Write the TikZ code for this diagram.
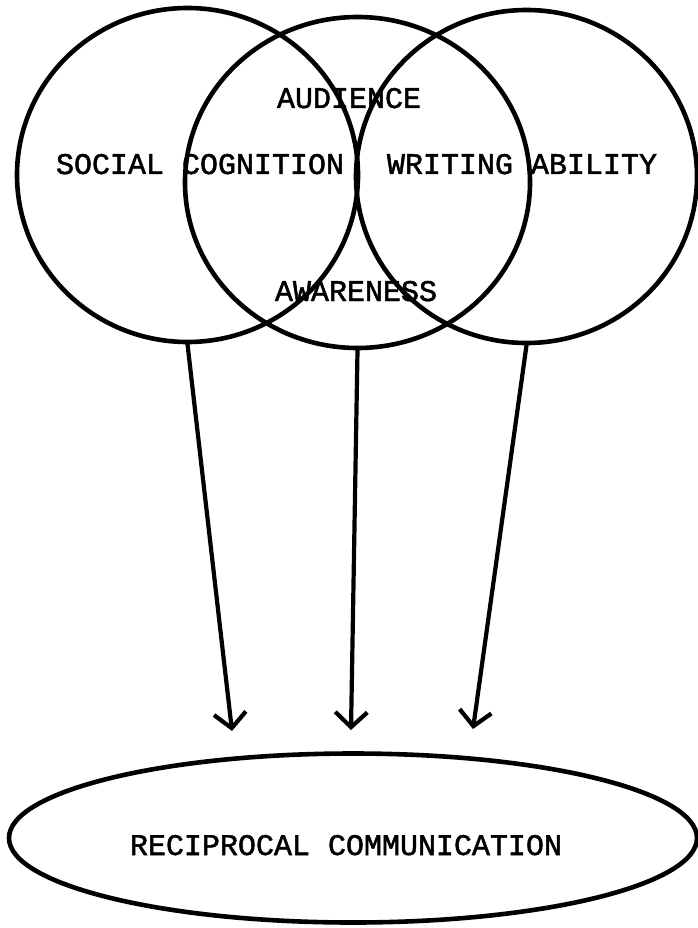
\documentclass[tikz,border=0pt]{standalone}
\usepackage{fontspec}
\setmonofont[FakeBold=1.6]{Liberation Mono}
\usetikzlibrary{shapes.geometric,arrows.meta}
\begin{document}
\begin{tikzpicture}[x=1pt,y=-1pt,
  ring/.style={draw=black,line width=4.6pt,ellipse,inner sep=0pt},
  lbl/.style={font=\ttfamily\fontsize{30}{30}\selectfont,anchor=base,inner sep=0pt},
  link/.style={line width=4.2pt,line cap=round,-{Straight Barb[length=15pt,width=32pt,line width=4.2pt]}}]
\useasboundingbox (0,0) rectangle (698,928);
\fill[white] (0,0) rectangle (698,928);
% circles
\node[ring,minimum width=341pt,minimum height=334pt] (soc) at (187.5,175) {};
\node[ring,minimum width=345pt,minimum height=331pt] (aud) at (357.5,182.5) {};
\node[ring,minimum width=341pt,minimum height=333pt] (wri) at (526.5,176.5) {};
% labels
\node[lbl] (tsoc) at (200,174) {SOCIAL COGNITION};
\node[lbl] (twri) at (522,174) {WRITING ABILITY};
\node[lbl] (taud) at (349,108) {AUDIENCE};
\node[lbl] (tawa) at (356,301) {AWARENESS};
% bottom ellipse
\node[ring,minimum width=688pt,minimum height=169pt] (rec) at (353,838) {};
\node[lbl] (trec) at (346,855) {RECIPROCAL COMMUNICATION};
% arrow ends
\coordinate (e1) at (232,731);
\coordinate (e2) at (351,730);
\coordinate (e3) at (473,729);
\draw[link] (soc.south) -- (e1);
\draw[link] (aud.south) -- (e2);
\draw[link] (wri.south) -- (e3);
\end{tikzpicture}
\end{document}
